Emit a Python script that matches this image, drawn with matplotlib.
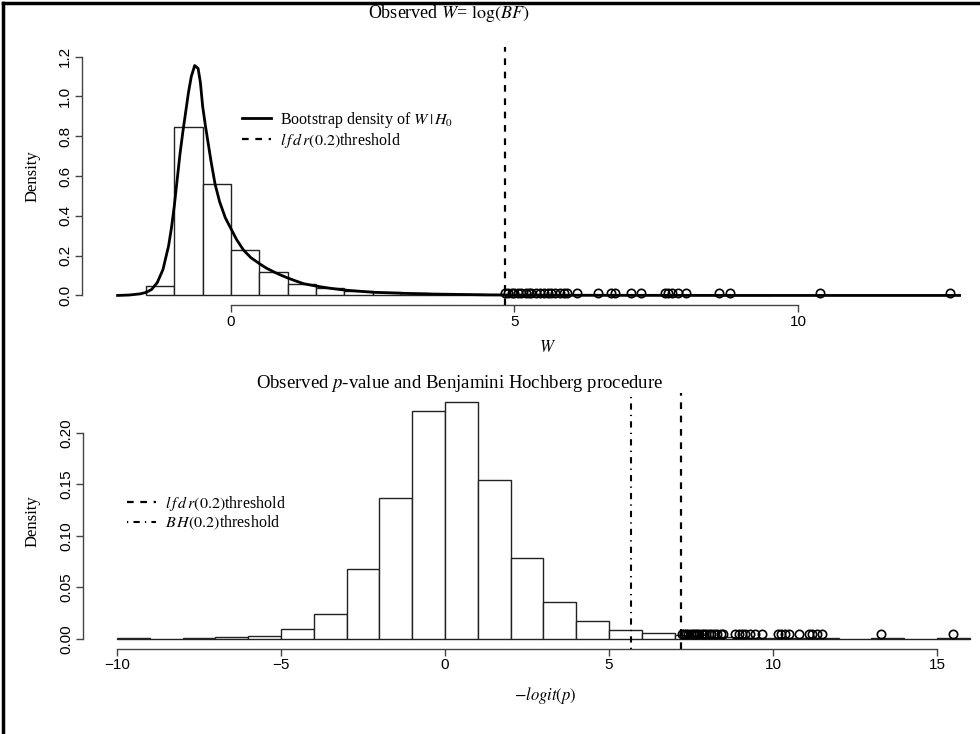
import numpy as np
import matplotlib
matplotlib.use('Agg')
import matplotlib.pyplot as plt
from matplotlib.lines import Line2D

plt.rcParams['font.family'] = ['Liberation Serif', 'DejaVu Serif']
plt.rcParams['mathtext.fontset'] = 'stix'

# --- top panel: W = log(BF) ---
w_breaks = np.arange(-1.5, 9.51, 0.5)
w_density = [0.049, 0.845, 0.558, 0.228, 0.119, 0.059, 0.039, 0.024, 0.016, 0.012,
             0.008, 0.005, 0.004, 0.003, 0.002, 0.002, 0.001, 0.001, 0.001, 0.001,
             0.0005, 0.0005]
boot_x = [-2.0, -1.8, -1.6, -1.5, -1.4, -1.3, -1.2, -1.1, -1.05, -1.0, -0.95, -0.9,
          -0.85, -0.8, -0.75, -0.7, -0.64, -0.58, -0.54, -0.5, -0.45, -0.4, -0.35,
          -0.28, -0.2, -0.1, 0.0, 0.1, 0.22, 0.35, 0.5, 0.62, 0.75, 0.88, 1.0, 1.14,
          1.28, 1.5, 1.75, 2.0, 2.5, 3.0, 3.57, 4.5, 6.0, 9.0, 12.85]
boot_y = [0.0, 0.002, 0.008, 0.015, 0.03, 0.065, 0.13, 0.25, 0.34, 0.45, 0.58, 0.71,
          0.82, 0.92, 1.02, 1.1, 1.155, 1.14, 1.07, 0.95, 0.85, 0.76, 0.67, 0.558,
          0.47, 0.39, 0.335, 0.28, 0.228, 0.19, 0.16, 0.138, 0.119, 0.102, 0.088,
          0.073, 0.059, 0.047, 0.036, 0.027, 0.016, 0.011, 0.007, 0.003, 0.001, 0.0,
          0.0]
w_obs = [4.83, 4.88, 4.95, 5.0, 5.07, 5.12, 5.2, 5.25, 5.3, 5.38, 5.45, 5.52, 5.6,
         5.65, 5.72, 5.8, 5.87, 5.92, 6.10, 6.47, 6.70, 6.77, 7.05, 7.23, 7.65, 7.71,
         7.77, 7.88, 8.02, 8.61, 8.80, 10.39, 12.68]
w_lfdr = 4.83

# --- bottom panel: -logit(p) ---
p_breaks = np.arange(-10, 16.1, 1)
p_density = [0.0006, 0.0, 0.0006, 0.0018, 0.003, 0.0097, 0.0243, 0.0677, 0.1366,
             0.2207, 0.2294, 0.1544, 0.079, 0.036, 0.0172, 0.0084, 0.0055, 0.004,
             0.002, 0.0012, 0.0012, 0.0012, 0.0, 0.0006, 0.0, 0.0006]
p_obs = [7.22, 7.28, 7.35, 7.42, 7.5, 7.55, 7.62, 7.68, 7.75, 7.82, 7.9, 7.97, 8.05,
         8.12, 8.2, 8.3, 8.4, 8.48, 8.85, 8.95, 9.05, 9.15, 9.3, 9.45, 9.65, 10.15,
         10.25, 10.35, 10.5, 10.8, 11.1, 11.2, 11.35, 11.5, 13.3, 15.5]
p_lfdr = 7.2
p_bh = 5.67

W, H = 980, 734
fig = plt.figure(figsize=(W / 100, H / 100), dpi=100)

DASH = (0, (3, 3))
DASHDOT = (0, (0.6, 2.5, 3, 2.5))
LFDR = r'$l\,f\,d\,r(0.2)$threshold'


def box(l, r, t, b):
    return [l / W, 1 - b / H, (r - l) / W, (b - t) / H]


def style(ax, xb, yb):
    for s in ['top', 'right']:
        ax.spines[s].set_visible(False)
    for s in ['left', 'bottom']:
        ax.spines[s].set_color('#444444')
        ax.spines[s].set_linewidth(1)
    ax.spines['bottom'].set_bounds(*xb)
    ax.spines['left'].set_bounds(*yb)
    ax.tick_params(direction='out', length=5, width=1, color='#444444', pad=2,
                   labelsize=11)
    for lab in ax.get_xticklabels() + ax.get_yticklabels():
        lab.set_family('Liberation Sans')
    for lab in ax.get_yticklabels():
        lab.set_rotation(90)
        lab.set_va('center')


# top
ax1 = fig.add_axes(box(82, 993, 47, 305))
ax1.bar(w_breaks[:-1], w_density, width=0.5, align='edge', facecolor='white',
        edgecolor='#222222', linewidth=1)
ax1.plot(boot_x, boot_y, color='black', linewidth=2)
ax1.plot(w_obs, [0.01] * len(w_obs), 'o', mfc='none', mec='black', ms=6, mew=1.2)
ax1.axvline(w_lfdr, color='black', linestyle=DASH, linewidth=1.6)
ax1.set_xlim(-2.628, 13.44)
ax1.set_ylim(-0.048, 1.248)
ax1.set_xticks([0, 5, 10])
ax1.set_yticks([0, 0.2, 0.4, 0.6, 0.8, 1.0, 1.2])
ax1.set_yticklabels(['0.0', '0.2', '0.4', '0.6', '0.8', '1.0', '1.2'])
style(ax1, (0, 10), (0, 1.2))

# bottom
ax2 = fig.add_axes(box(82.9, 1004, 393, 648.5))
ax2.bar(p_breaks[:-1], p_density, width=1, align='edge', facecolor='white',
        edgecolor='#222222', linewidth=1)
ax2.plot(p_obs, [0.005] * len(p_obs), 'o', mfc='none', mec='black', ms=6, mew=1.2)
ax2.axvline(p_bh, color='black', linestyle=DASHDOT, linewidth=1.5)
ax2.axvline(p_lfdr, color='black', linestyle=DASH, linewidth=1.6)
ax2.set_xlim(-11.04, 17.04)
ax2.set_ylim(-0.0092, 0.2386)
ax2.set_xticks([-10, -5, 0, 5, 10, 15])
ax2.set_xticklabels(['\u221210', '\u22125', '0', '5', '10', '15'])
ax2.set_yticks([0, 0.05, 0.10, 0.15, 0.20])
ax2.set_yticklabels(['0.00', '0.05', '0.10', '0.15', '0.20'])
style(ax2, (-10, 15), (0, 0.2))

# titles and axis labels
fig.text(449 / W, 1 - 14 / H, r'Observed $W$= $\mathrm{log}(BF)$', ha='center',
         va='center', fontsize=13)
fig.text(460 / W, 1 - 384 / H, r'Observed $p$-value and Benjamini Hochberg procedure',
         ha='center', va='center', fontsize=13.5)
fig.text(548 / W, 1 - 348 / H, r'$W$', ha='center', va='center', fontsize=12)
fig.text(545 / W, 1 - 695 / H, r'$-logit(p)$', ha='center', va='center', fontsize=12)
fig.text(33 / W, 1 - 176 / H, 'Density', rotation=90, ha='center', va='center',
         fontsize=12)
fig.text(33 / W, 1 - 521 / H, 'Density', rotation=90, ha='center', va='center',
         fontsize=12)

# legends
h1 = [Line2D([], [], color='black', linewidth=2),
      Line2D([], [], color='black', linestyle=DASH, linewidth=1.6)]
fig.legend(h1, [r'Bootstrap density of $W\,|\,H_0$', LFDR],
           loc='upper left', bbox_to_anchor=(242 / W, 1 - 110 / H), frameon=False,
           borderpad=0, borderaxespad=0, handlelength=1.8, handletextpad=0.6,
           labelspacing=0.05, fontsize=11.5)
h2 = [Line2D([], [], color='black', linestyle=DASH, linewidth=1.6),
      Line2D([], [], color='black', linestyle=DASHDOT, linewidth=1.5)]
fig.legend(h2, [LFDR, r'$B\,H(0.2)$threshold'],
           loc='upper left', bbox_to_anchor=(127 / W, 1 - 494 / H), frameon=False,
           borderpad=0, borderaxespad=0, handlelength=1.8, handletextpad=0.6,
           labelspacing=0.05, fontsize=11.5)

# outer frame (left and top edges of the cropped page border)
fig.add_artist(Line2D([3 / W, 3 / W], [0, 1 - 3 / H], color='black', linewidth=2.5))
fig.add_artist(Line2D([3 / W, 1], [1 - 3 / H, 1 - 3 / H], color='black', linewidth=2.5))

fig.savefig('out.png', dpi=100)
